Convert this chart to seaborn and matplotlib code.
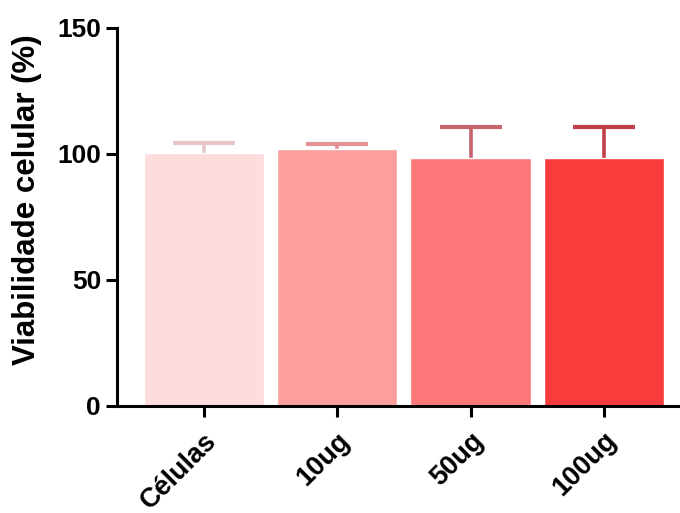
import matplotlib
matplotlib.use("Agg")
import matplotlib.pyplot as plt
import matplotlib.transforms as mtransforms
import seaborn as sns
import pandas as pd

# viabilidade celular por grupo (media e erro superior)
grupos = ["Células", "10ug", "50ug", "100ug"]
media = [100.4, 102.0, 98.4, 98.4]
erro = [3.8, 1.8, 12.3, 12.3]
cores_barra = ["#FDDCDD", "#FC9E9E", "#FC7878", "#F83C3C"]
cores_erro = ["#E6C6C8", "#E49296", "#C8646E", "#C0404A"]

df = pd.DataFrame({"grupo": grupos, "viab": media})

sns.set_style("ticks")
plt.rcParams["font.family"] = ["Liberation Sans", "DejaVu Sans"]

fig = plt.figure(figsize=(6.8, 5.13), dpi=100)
ax = fig.add_axes([0.172, 0.209, 0.828, 0.737])

sns.barplot(data=df, x="grupo", y="viab", hue="grupo", palette=cores_barra,
            errorbar=None, width=0.9, legend=False, ax=ax, saturation=1, zorder=2)

# so a parte de cima do erro aparece (o resto fica atras da barra)
for i in range(len(grupos)):
    ax.errorbar(i, media[i], yerr=[[erro[i]], [erro[i]]], fmt="none",
                ecolor=cores_erro[i], elinewidth=2.6, capsize=22, capthick=3, zorder=1)

ax.set_ylim(0, 150)
ax.set_xlim(-0.65, 3.57)
ax.set_yticks([0, 50, 100, 150])
ax.set_xlabel("")
ax.set_ylabel("Viabilidade celular (%)", fontsize=22.5, fontweight="bold",
              color="black")
ax.yaxis.set_label_coords(-0.133, 0.545)
ax.tick_params(axis="both", direction="out", length=8, width=2.2,
               labelsize=19, colors="black")
ax.tick_params(axis="x", labelsize=19.5, pad=10)
for lab in ax.get_yticklabels():
    lab.set_fontweight("bold")
desloc = mtransforms.ScaledTranslation(9 / 100, -6 / 100, fig.dpi_scale_trans)
for lab in ax.get_xticklabels():
    lab.set_fontweight("bold")
    lab.set_rotation(45)
    lab.set_ha("right")
    lab.set_va("center")
    lab.set_rotation_mode("anchor")
    lab.set_transform(lab.get_transform() + desloc)

sns.despine(ax=ax)
ax.spines["left"].set_linewidth(2.2)
ax.spines["bottom"].set_linewidth(2.2)
ax.spines["left"].set_color("black")
ax.spines["bottom"].set_color("black")

fig.savefig("out.png", dpi=100)
